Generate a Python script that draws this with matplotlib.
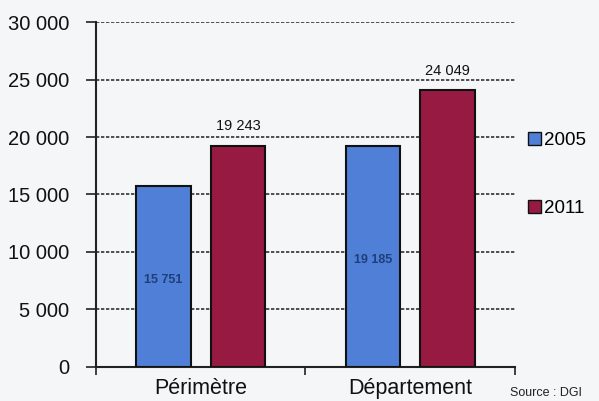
import numpy as np
import matplotlib
matplotlib.use("Agg")
import matplotlib.pyplot as plt
from matplotlib.patches import Patch

plt.rcParams['font.family'] = ['Liberation Sans', 'DejaVu Sans']

# Données
categories = ['Périmètre', 'Département']
series = ['2005', '2011']
valeurs_2005 = [15751, 19185]
valeurs_2011 = [19243, 24049]
yticks = [0, 5000, 10000, 15000, 20000, 25000, 30000]

bleu = '#4f7fd6'
rouge = '#961a42'
fond = '#f5f6f8'

def fmt(v):
    return f"{v:,}".replace(',', ' ')

fig = plt.figure(figsize=(5.99, 4.01), dpi=100, facecolor=fond)
ax = fig.add_axes([0.160, 0.085, 0.700, 0.860], facecolor=fond)

x = np.arange(len(categories))
w = 0.26
gap = 0.095
b1 = ax.bar(x - w / 2 - gap / 2, valeurs_2005, w, color=bleu, edgecolor='#111111', linewidth=1.5, zorder=3)
b2 = ax.bar(x + w / 2 + gap / 2, valeurs_2011, w, color=rouge, edgecolor='#111111', linewidth=1.5, zorder=3)

# Etiquettes des valeurs
for rect, v in zip(b1, valeurs_2005):
    ax.text(rect.get_x() + rect.get_width() / 2, v / 2 - 300, fmt(v), ha='center', va='center',
            fontsize=9, color='#1f3f7a', fontweight='bold', zorder=4)
for rect, v in zip(b2, valeurs_2011):
    ax.text(rect.get_x() + rect.get_width() / 2, v + 1100, fmt(v), ha='center', va='bottom',
            fontsize=10.5, color='#111111', zorder=4)

ax.set_xlim(-0.5, 1.5)
ax.set_ylim(0, 30000)
ax.set_yticks(yticks)
ax.set_yticklabels([fmt(t) for t in yticks], fontsize=14.5, color='#111111')
ax.set_xticks([-0.5, 0.5, 1.5], minor=False)
ax.set_xticklabels([])
ax.set_xticks(x, minor=True)
ax.set_xticklabels(categories, minor=True, fontsize=15.5, color='#111111')
ax.tick_params(axis='x', which='minor', length=0, pad=8)
ax.tick_params(axis='x', which='major', length=6, width=1.2, direction='out', color='#222222')
ax.tick_params(axis='y', length=7, width=1.2, direction='out', color='#222222', pad=12)

ax.grid(axis='y', linestyle=(0, (2, 1)), color='#333333', linewidth=1.2, zorder=0)
for s in ['top', 'right']:
    ax.spines[s].set_visible(False)
ax.spines['left'].set_linewidth(1.5)
ax.spines['bottom'].set_linewidth(1.5)
ax.spines['left'].set_color('#222222')
ax.spines['bottom'].set_color('#222222')

handles = [Patch(facecolor=bleu, edgecolor='#111111'), Patch(facecolor=rouge, edgecolor='#111111')]
leg = fig.legend(handles, series, loc='upper left', bbox_to_anchor=(0.882, 0.67), frameon=False,
                 fontsize=13.5, handlelength=0.7, handleheight=0.7, handletextpad=0.15,
                 labelspacing=2.7, borderpad=0, borderaxespad=0)

fig.text(0.852, 0.005, 'Source : DGI', fontsize=9, color='#222222', ha='left', va='bottom')

fig.savefig('out.png', dpi=100, facecolor=fond)
